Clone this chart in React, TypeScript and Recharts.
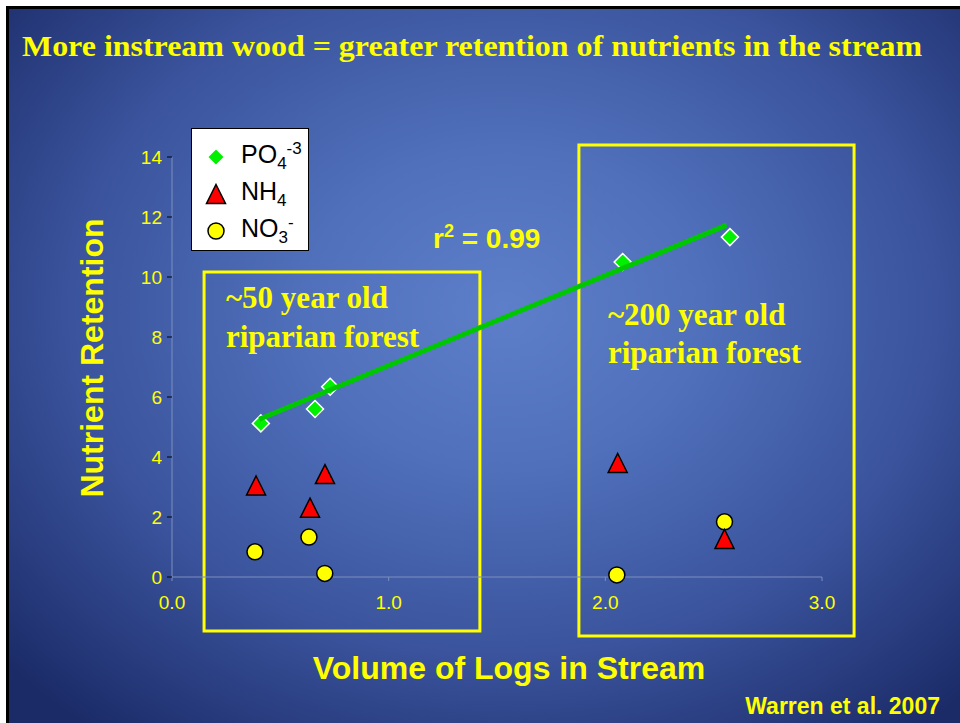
import { Legend, ReferenceArea, Scatter, ScatterChart, XAxis, YAxis } from "recharts";

// values
const po4 = [
  { x: 0.41, y: 5.12 },
  { x: 0.66, y: 5.6 },
  { x: 0.73, y: 6.34 },
  { x: 2.08, y: 10.5 },
  { x: 2.575, y: 11.33 },
];
const nh4 = [
  { x: 0.388, y: 3.05 },
  { x: 0.637, y: 2.31 },
  { x: 0.706, y: 3.43 },
  { x: 2.057, y: 3.8 },
  { x: 2.55, y: 1.27 },
];
const no3 = [
  { x: 0.383, y: 0.84 },
  { x: 0.632, y: 1.33 },
  { x: 0.705, y: 0.12 },
  { x: 2.053, y: 0.07 },
  { x: 2.55, y: 1.84 },
];
const trend = [
  { x: 0.403, y: 5.26 },
  { x: 2.56, y: 11.73 },
];
const xTicks = [0, 1, 2, 3];
const yTicks = [0, 2, 4, 6, 8, 10, 12, 14];
const boxes = [
  { x1: 0.148, x2: 1.421, y1: -1.8, y2: 10.17 },
  { x1: 1.878, x2: 3.148, y1: -1.97, y2: 14.4 },
];

const yellow = "#ffff00";
const sans = "'Liberation Sans', Arial, sans-serif";
const serif = "'Liberation Serif', 'Times New Roman', serif";

type Pt = { cx?: number; cy?: number };

const Diamond = ({ cx = 0, cy = 0 }: Pt) => (
  <path d={`M${cx},${cy - 8.5}L${cx + 8.5},${cy}L${cx},${cy + 8.5}L${cx - 8.5},${cy}Z`} fill="#00f000" stroke="#fff" strokeWidth={1.5} />
);
const Triangle = ({ cx = 0, cy = 0 }: Pt) => (
  <path d={`M${cx},${cy - 9.5}L${cx + 9.5},${cy + 9.5}L${cx - 9.5},${cy + 9.5}Z`} fill="#ff0000" stroke="#000" strokeWidth={1.5} />
);
const Dot = ({ cx = 0, cy = 0 }: Pt) => <circle cx={cx} cy={cy} r={8} fill={yellow} stroke="#000" strokeWidth={1.5} />;

function LegendBox() {
  const row = { display: "flex", alignItems: "center", height: 37 } as const;
  const icon = (shape: JSX.Element) => (
    <svg width={22} height={22} style={{ marginLeft: 13, marginRight: 14 }}>
      {shape}
    </svg>
  );
  return (
    <div style={{ width: 118, height: 123, background: "#fff", border: "1px solid #000", paddingTop: 9, boxSizing: "border-box", fontFamily: sans, fontSize: 25, color: "#000", lineHeight: 1 }}>
      <div style={row}>
        {icon(<Diamond cx={11} cy={11} />)}
        <span>
          PO<sub style={{ fontSize: 17 }}>4</sub>
          <sup style={{ fontSize: 17 }}>-3</sup>
        </span>
      </div>
      <div style={row}>
        {icon(<Triangle cx={11} cy={11} />)}
        <span>
          NH<sub style={{ fontSize: 17 }}>4</sub>
        </span>
      </div>
      <div style={row}>
        {icon(<Dot cx={11} cy={11} />)}
        <span>
          NO<sub style={{ fontSize: 17 }}>3</sub>
          <sup style={{ fontSize: 17 }}>-</sup>
        </span>
      </div>
    </div>
  );
}

const tickStyle = { fill: yellow, fontSize: 19, fontFamily: sans };

export default function App() {
  return (
    <div style={{ position: "absolute", left: 0, top: 0, width: 960, height: 723, background: "#fff", overflow: "hidden" }}>
      <div
        style={{
          position: "absolute",
          left: 6,
          top: 6,
          right: 0,
          bottom: 0,
          borderTop: "3px solid #000",
          borderLeft: "3px solid #000",
          background: "radial-gradient(ellipse 70% 75% at 52% 42%, #5d7ec9 0%, #5070bb 30%, #3a539c 65%, #1b2b68 100%)",
        }}
      />
      <div style={{ position: "absolute", left: 0, top: 0 }}>
        <ScatterChart width={960} height={723} margin={{ top: 157, right: 138, bottom: 116, left: 112 }}>
          <XAxis
            type="number"
            dataKey="x"
            domain={[0, 3]}
            ticks={xTicks}
            tickFormatter={(v: number) => v.toFixed(1)}
            axisLine={{ stroke: "#7d8fbd" }}
            tickLine={{ stroke: "#7d8fbd" }}
            tickSize={4}
            tickMargin={15}
            fontSize={19}
            tick={tickStyle}
          />
          <YAxis
            type="number"
            dataKey="y"
            domain={[0, 14]}
            ticks={yTicks}
            width={60}
            axisLine={{ stroke: "#7d8fbd" }}
            tickLine={{ stroke: "#000" }}
            tickSize={5}
            tickMargin={5}
            fontSize={19}
            tick={tickStyle}
          />
          {boxes.map((b, i) => (
            <ReferenceArea key={i} x1={b.x1} x2={b.x2} y1={b.y1} y2={b.y2} ifOverflow="visible" fill="none" stroke={yellow} strokeWidth={3} />
          ))}
          <Legend layout="vertical" align="center" verticalAlign="middle" wrapperStyle={{ left: 191, top: 128, width: 118 }} content={() => <LegendBox />} />
          <Scatter name="NO3" data={no3} shape={Dot} isAnimationActive={false} />
          <Scatter name="NH4" data={nh4} shape={Triangle} isAnimationActive={false} />
          <Scatter name="PO4" data={po4} shape={Diamond} isAnimationActive={false} />
          <Scatter name="fit" data={trend} line={{ stroke: "#00c800", strokeWidth: 5 }} shape={() => <g />} legendType="none" isAnimationActive={false} />
        </ScatterChart>
      </div>
      <svg width={960} height={723} style={{ position: "absolute", left: 0, top: 0, pointerEvents: "none" }}>
        <text x={22} y={56} fill={yellow} fontFamily={serif} fontWeight="bold" fontSize={30} textLength={900} lengthAdjust="spacingAndGlyphs">
          More instream wood = greater retention of nutrients in the stream
        </text>
        <text x={433} y={248} fill={yellow} fontFamily={sans} fontWeight="bold" fontSize={28}>
          r<tspan fontSize={18} dy={-11}>2</tspan>
          <tspan dy={11}> = 0.99</tspan>
        </text>
        <g fill={yellow} fontFamily={serif} fontWeight="bold" fontSize={31}>
          <text x={226} y={308}>~50 year old</text>
          <text x={226} y={347}>riparian forest</text>
          <text x={608} y={325}>~200 year old</text>
          <text x={608} y={363}>riparian forest</text>
        </g>
        <text transform="translate(103,358) rotate(-90)" textAnchor="middle" fill={yellow} fontFamily={sans} fontWeight="bold" fontSize={32}>
          Nutrient Retention
        </text>
        <text x={509} y={679} textAnchor="middle" fill={yellow} fontFamily={sans} fontWeight="bold" fontSize={32}>
          Volume of Logs in Stream
        </text>
        <text x={940} y={714} textAnchor="end" fill={yellow} fontFamily={sans} fontWeight="bold" fontSize={23}>
          Warren et al. 2007
        </text>
      </svg>
    </div>
  );
}
